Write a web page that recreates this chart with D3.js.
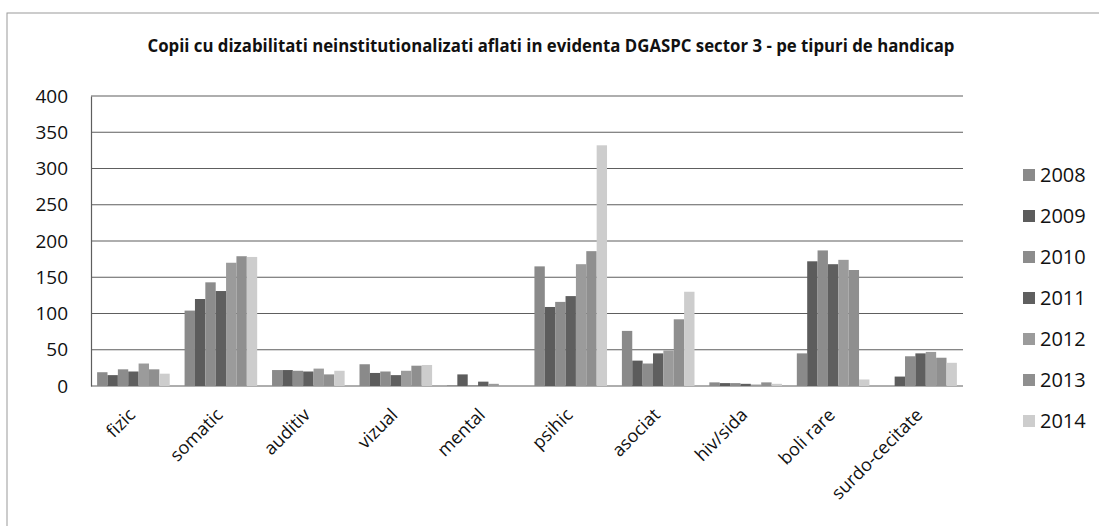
<!DOCTYPE html>
<html>
<head>
<meta charset="utf-8">
<script src="https://cdn.jsdelivr.net/npm/d3@7"></script>
<style>
  body { margin: 0; background: #ffffff; }
</style>
</head>
<body>
<div id="chart"></div>
<script>
// DATA
var categories = ["fizic", "somatic", "auditiv", "vizual", "mental", "psihic", "asociat", "hiv/sida", "boli rare", "surdo-cecitate"];
var years = ["2008", "2009", "2010", "2011", "2012", "2013", "2014"];
var v2008 = [19, 104, 22, 30, 1, 165, 76, 5, 45, 0];
var v2009 = [15, 120, 22, 18, 16, 109, 35, 4, 172, 13];
var v2010 = [23, 143, 21, 20, 1, 116, 31, 4, 187, 41];
var v2011 = [20, 131, 20, 15, 6, 124, 45, 3, 168, 45];
var v2012 = [31, 170, 24, 21, 3, 168, 49, 2, 174, 47];
var v2013 = [23, 179, 16, 28, 0, 186, 92, 5, 160, 39];
var v2014 = [17, 178, 21, 29, 0, 332, 130, 3, 9, 32];
var yTicks = [0, 50, 100, 150, 200, 250, 300, 350, 400];
var title = "Copii cu dizabilitati neinstitutionalizati aflati in evidenta DGASPC sector 3 - pe tipuri de handicap";

var series = [v2008, v2009, v2010, v2011, v2012, v2013, v2014];
var colors = ["#8a8a8a", "#5c5c5c", "#8c8c8c", "#5f5f5f", "#9b9b9b", "#8f8f8f", "#cdcdcd"];

var width = 1099,
    height = 526;

var svg = d3.select("#chart").append("svg")
    .attr("width", width)
    .attr("height", height)
    .attr("viewBox", "0 0 " + width + " " + height);

// FRAME
svg.append("rect")
    .attr("x", 7)
    .attr("y", 13)
    .attr("width", width + 10)
    .attr("height", height + 10)
    .attr("fill", "#ffffff")
    .attr("stroke", "#9a9a9a")
    .attr("stroke-width", 1);

// TITLE
svg.append("text")
    .attr("x", 551)
    .attr("y", 52)
    .attr("text-anchor", "middle")
    .attr("font-family", "'Open Sans', sans-serif")
    .attr("font-weight", "bold")
    .attr("font-size", 17)
    .attr("fill", "#111")
    .attr("textLength", 807)
    .attr("lengthAdjust", "spacingAndGlyphs")
    .text(title);

// SCALES
var x = d3.scaleBand()
    .domain(categories)
    .range([91, 963])
    .paddingInner(0.17)
    .paddingOuter(0.07);

var x1 = d3.scaleBand()
    .domain(years)
    .range([0, x.bandwidth()]);

var y = d3.scaleLinear()
    .domain([0, 400])
    .range([386, 96]);

// GRID + Y AXIS
svg.append("g")
    .attr("class", "grid")
    .selectAll("line")
    .data(yTicks)
    .enter()
    .append("line")
    .attr("x1", 91)
    .attr("x2", 963)
    .attr("y1", function(d) { return y(d); })
    .attr("y2", function(d) { return y(d); })
    .attr("stroke", "#5e5e5e")
    .attr("stroke-width", 1.2);

var yAxis = svg.append("g")
    .attr("transform", "translate(91,0)")
    .call(d3.axisLeft(y).tickValues(yTicks).tickSize(0).tickPadding(23));
yAxis.select(".domain").attr("stroke", "#5e5e5e").attr("stroke-width", 1.2);
yAxis.selectAll("text")
    .attr("font-family", "'Open Sans', sans-serif")
    .attr("font-size", 19)
    .attr("fill", "#111");

// BARS
var groups = svg.append("g")
    .attr("class", "bars")
    .selectAll("g")
    .data(series)
    .enter()
    .append("g")
    .attr("fill", function(d, i) { return colors[i]; });

groups.selectAll("rect")
    .data(function(d, i) {
        return d.map(function(v, j) { return {cat: categories[j], year: years[i], value: v}; });
    })
    .enter()
    .append("rect")
    .attr("x", function(d) { return x(d.cat) + x1(d.year); })
    .attr("width", x1.bandwidth())
    .attr("y", function(d) { return y(d.value); })
    .attr("height", function(d) { return y(0) - y(d.value); });

// X AXIS LABELS
var xAxis = svg.append("g")
    .attr("transform", "translate(0,386)")
    .call(d3.axisBottom(x).tickSize(0).tickPadding(0));
xAxis.select(".domain").remove();
xAxis.selectAll("text")
    .attr("font-family", "'Open Sans', sans-serif")
    .attr("font-size", 18)
    .attr("fill", "#111")
    .attr("text-anchor", "end")
    .attr("dy", 0)
    .attr("transform", "translate(3,30) rotate(-45)");

// LEGEND
var legend = svg.append("g")
    .attr("class", "legend")
    .selectAll("g")
    .data(years)
    .enter()
    .append("g")
    .attr("transform", function(d, i) { return "translate(1023," + (175 + i * 41) + ")"; });

legend.append("rect")
    .attr("x", 0)
    .attr("y", -6)
    .attr("width", 12)
    .attr("height", 12)
    .attr("fill", function(d, i) { return colors[i]; });

legend.append("text")
    .attr("x", 17)
    .attr("y", 7)
    .attr("font-family", "'Open Sans', sans-serif")
    .attr("font-size", 20)
    .attr("fill", "#111")
    .text(function(d) { return d; });
</script>
</body>
</html>
